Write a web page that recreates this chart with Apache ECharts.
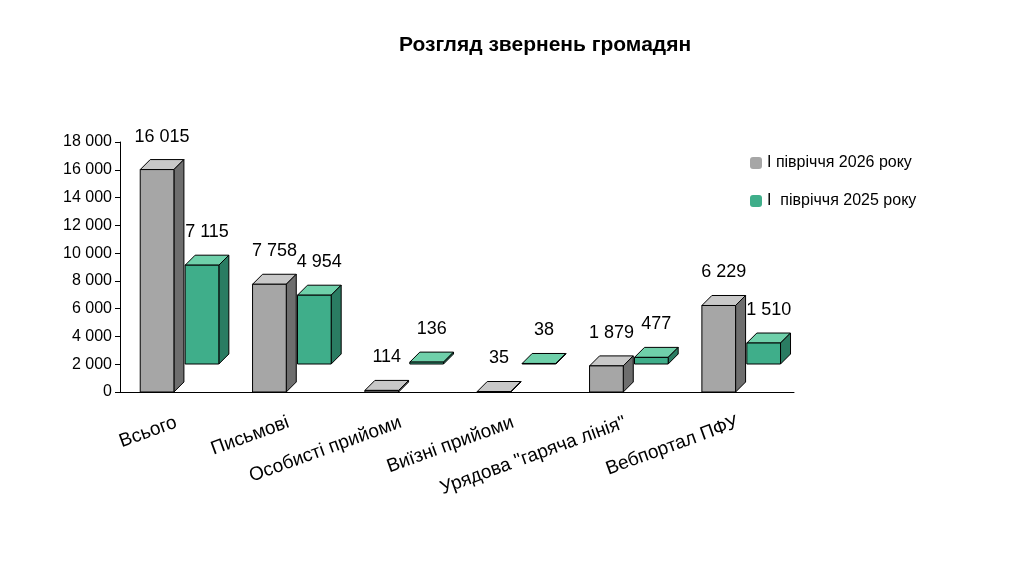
<!DOCTYPE html>
<html><head><meta charset="utf-8">
<script src="https://cdn.jsdelivr.net/npm/echarts@6/dist/echarts.min.js"></script>
<style>html,body{margin:0;padding:0;background:#fff}#c{width:1024px;height:588px}</style>
</head><body><div id="c"></div>
<script>
const categories = ['Всього','Письмові','Особисті прийоми','Виїзні прийоми','Урядова "гаряча лінія"','Вебпортал ПФУ'];
const values2026 = [16015, 7758, 114, 35, 1879, 6229];
const values2025 = [7115, 4954, 136, 38, 477, 1510];
const seriesNames = ['І півріччя 2026 року','І  півріччя 2025 року'];
const fmt = v => String(v).replace(/\B(?=(\d{3})+(?!\d))/g, ' ');
const FONT = '"Liberation Sans Narrow", "Liberation Sans", Arial';
const styles = [
  {front:'#a6a6a6', top:'#c8c8c8', side:'#6e6e6e', off:-0.32, dx:0, dy:0},
  {front:'#3fae8a', top:'#6fd0aa', side:'#2a7c62', off:0.08, dx:0, dy:-28}
];
function makeRender(si){
  const st = styles[si];
  return function(params, api){
    const cat = api.value(0), val = api.value(1);
    const band = api.size([1,0])[0];
    const top = api.coord([cat, val]), base = api.coord([cat, 0]);
    const w = band*0.3, d = 10;
    const x = base[0] + st.off*band + st.dx;
    const y0 = base[1] + st.dy, y1 = top[1] + st.dy;
    const ln = {stroke:'#000', lineWidth:1};
    return {type:'group', children:[
      {type:'polygon', shape:{points:[[x,y1],[x+w,y1],[x+w+d,y1-d],[x+d,y1-d]]}, style:Object.assign({fill:st.top},ln)},
      {type:'polygon', shape:{points:[[x+w,y1],[x+w+d,y1-d],[x+w+d,y0-d],[x+w,y0]]}, style:Object.assign({fill:st.side},ln)},
      {type:'rect', shape:{x:x, y:y1, width:w, height:y0-y1}, style:Object.assign({fill:st.front},ln)},
      {type:'text', style:{text:fmt(val), x:x+w/2+d/2, y:y1-d-14, align:'center', verticalAlign:'bottom', fill:'#000', font:'18px ' + FONT}}
    ]};
  };
}
const chart = echarts.init(document.getElementById('c'));
chart.setOption({
  animation:false,
  title:{text:'Розгляд звернень громадян', left:540, top:30, textAlign:'center',
    textStyle:{fontFamily:FONT, fontSize:21, fontWeight:'bold', color:'#000'}},
  legend:{data:[
      {name:seriesNames[0], itemStyle:{color:styles[0].front}},
      {name:seriesNames[1], itemStyle:{color:styles[1].front}}],
    orient:'vertical', left:745, top:150, itemGap:22, itemWidth:12, itemHeight:12,
    textStyle:{fontFamily:FONT, fontSize:16, color:'#000'}},
  grid:{left:120, right:230, top:142, bottom:196},
  xAxis:{type:'category', data:categories,
    axisLine:{lineStyle:{color:'#000'}}, axisTick:{show:false},
    axisLabel:{rotate:20, interval:0, fontFamily:FONT, fontSize:19, color:'#000', margin:30}},
  yAxis:{type:'value', min:0, max:18000, interval:2000,
    axisLine:{show:true, lineStyle:{color:'#000'}}, axisTick:{show:true},
    splitLine:{show:false},
    axisLabel:{formatter:v=>fmt(v), fontFamily:FONT, fontSize:16, color:'#000'}},
  series:[
    {name:seriesNames[0], type:'custom', renderItem:makeRender(0), itemStyle:{color:styles[0].front},
      data:values2026.map((v,i)=>[i,v]), encode:{x:0,y:1}, z:3},
    {name:seriesNames[1], type:'custom', renderItem:makeRender(1), itemStyle:{color:styles[1].front},
      data:values2025.map((v,i)=>[i,v]), encode:{x:0,y:1}, z:2}
  ]
});
</script></body></html>
